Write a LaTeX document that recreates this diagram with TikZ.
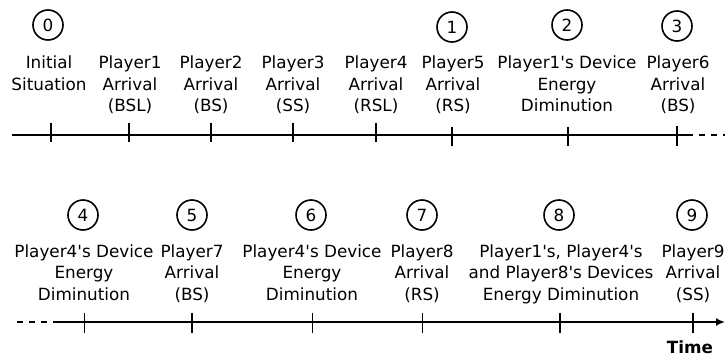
\documentclass[tikz,border=0pt]{standalone}
\usepackage{fontspec}
\setmainfont{DejaVu Sans}
\usetikzlibrary{arrows.meta}
\newcommand{\ap}{\textquotesingle}
\begin{document}
\begin{tikzpicture}[x=1pt,y=-1pt,
  lbl/.style={align=center, inner sep=0pt, anchor=north, font=\fontsize{16.8}{21.6}\selectfont},
  num/.style={circle, draw, line width=1.6pt, minimum size=30pt, inner sep=0pt, font=\fontsize{16.8}{20}\selectfont},
  axisline/.style={line width=1.7pt},
  tickline/.style={line width=1.6pt},
  dashline/.style={line width=1.7pt, dash pattern=on 6pt off 6pt}]
\useasboundingbox (0,0) rectangle (725,356);

% ---------- top row ----------
\node[num] (c0) at (48,25) {0};
\node[num] (c1) at (452,27) {1};
\node[num] (c2) at (567,25) {2};
\node[num] (c3) at (677,26) {3};

\node[lbl] (t0) at (49,55.5) {Initial\\Situation};
\node[lbl] (t1) at (130,55.5) {Player1\\Arrival\\(BSL)};
\node[lbl] (t2) at (211,55.5) {Player2\\Arrival\\(BS)};
\node[lbl] (t3) at (293,55.5) {Player3\\Arrival\\(SS)};
\node[lbl] (t4) at (376,55.5) {Player4\\Arrival\\(RSL)};
\node[lbl] (t5) at (453,55.5) {Player5\\Arrival\\(RS)};
\node[lbl] (t6) at (567,55.5) {Player1\ap s Device\\Energy\\Diminution};
\node[lbl] (t7) at (678,55.5) {Player6\\Arrival\\(BS)};

\coordinate (a0) at (12,135);
\coordinate (a1) at (687,135);
\coordinate (a2) at (725,135);
\draw[axisline] (a0) -- (a1);
\draw[dashline] (a1) -- (a2);

\foreach \x/\yt/\yb [count=\i] in {50.7/123/142, 129/123/142, 211/123/142, 293/123/142, 376/123/142, 452/127/146, 568/127/146, 677/126/146}{
  \coordinate (tt\i) at (\x,\yt);
  \coordinate (tb\i) at (\x,\yb);
  \draw[tickline] (tt\i) -- (tb\i);
}

% ---------- bottom row ----------
\node[num] (c4) at (83,215) {4};
\node[num] (c5) at (192,215) {5};
\node[num] (c6) at (311,215) {6};
\node[num] (c7) at (422,215) {7};
\node[num] (c8) at (559,215) {8};
\node[num] (c9) at (692,215) {9};

\node[lbl] (b4) at (84,244.3) {Player4\ap s Device\\Energy\\Diminution};
\node[lbl] (b5) at (192,244.3) {Player7\\Arrival\\(BS)};
\node[lbl] (b6) at (312,244.3) {Player4\ap s Device\\Energy\\Diminution};
\node[lbl] (b7) at (422,244.3) {Player8\\Arrival\\(RS)};
\node[lbl] (b8) at (561,244.3) {Player1\ap s, Player4\ap s\\and Player8\ap s Devices\\Energy Diminution};
\node[lbl] (b9) at (693,244.3) {Player9\\Arrival\\(SS)};

\coordinate (d0) at (17,322);
\coordinate (d1) at (57,322);
\coordinate (d2) at (725,322);
\draw[dashline] (d0) -- (d1);
\draw[axisline, -{Latex[length=9pt,width=8pt]}] (d1) -- (d2);

\foreach \x [count=\i] in {84.3, 191.7, 312.3, 422.3, 560, 692.7}{
  \coordinate (bt\i) at (\x,312.5);
  \coordinate (bb\i) at (\x,332.5);
  \draw[tickline] (bt\i) -- (bb\i);
}

\node[anchor=base, inner sep=0pt, font=\fontsize{16.8}{20}\selectfont\bfseries] (time) at (690,353) {Time};
\end{tikzpicture}
\end{document}
